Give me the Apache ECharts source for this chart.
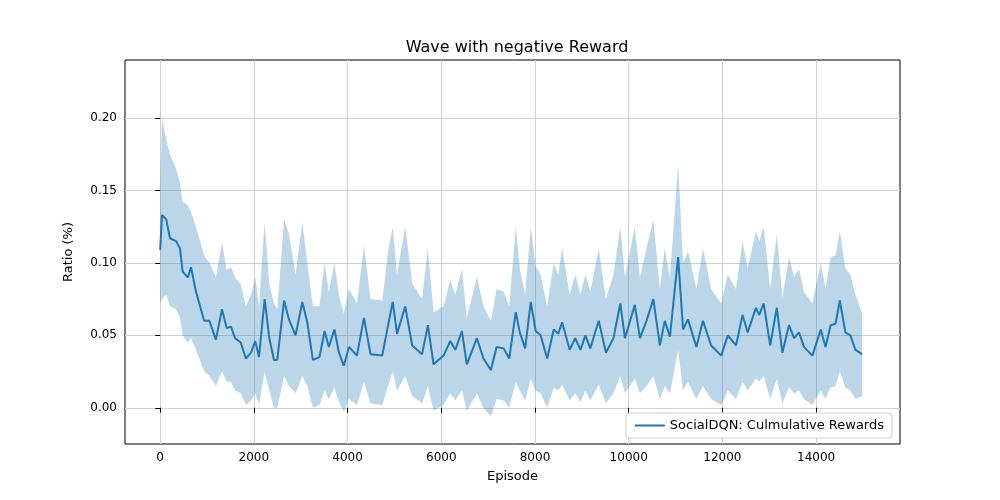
<!DOCTYPE html>
<html><head><meta charset="utf-8">
<script src="https://cdn.jsdelivr.net/npm/echarts@6/dist/echarts.min.js"></script>
<style>html,body{margin:0;background:#fff}#c{width:1000px;height:500px}</style>
</head><body><div id="c"></div>
<script>
var episodes = [0,40,130,210,340,425,480,590,660,765,940,1050,1190,1320,1420,1510,1600,1720,1830,1940,2030,2110,2230,2330,2430,2500,2645,2750,2890,3035,3140,3260,3400,3510,3600,3720,3815,3920,4030,4200,4350,4490,4740,4865,4965,5055,5230,5380,5590,5715,5835,6050,6190,6300,6440,6545,6760,6900,7060,7180,7330,7450,7590,7675,7790,7910,8015,8120,8260,8400,8495,8580,8740,8860,8970,9075,9180,9360,9515,9675,9820,9920,10130,10240,10380,10525,10665,10770,10880,11055,11160,11265,11445,11585,11760,11975,12115,12290,12430,12540,12715,12785,12880,13020,13160,13280,13420,13530,13635,13740,13920,14100,14200,14310,14415,14505,14625,14730,14840,14980];
var meanVals = [0.109,0.133,0.130,0.117,0.115,0.110,0.094,0.090,0.097,0.080,0.060,0.060,0.047,0.068,0.055,0.056,0.048,0.045,0.034,0.038,0.046,0.035,0.075,0.048,0.033,0.033,0.074,0.061,0.050,0.073,0.059,0.033,0.035,0.053,0.042,0.054,0.038,0.029,0.042,0.036,0.062,0.037,0.036,0.057,0.073,0.051,0.070,0.043,0.037,0.057,0.030,0.036,0.046,0.040,0.053,0.030,0.048,0.034,0.026,0.042,0.041,0.034,0.066,0.052,0.041,0.073,0.053,0.050,0.034,0.054,0.051,0.059,0.040,0.048,0.040,0.050,0.041,0.060,0.038,0.048,0.072,0.048,0.071,0.048,0.060,0.075,0.043,0.060,0.049,0.104,0.054,0.061,0.042,0.060,0.043,0.036,0.050,0.043,0.064,0.052,0.069,0.064,0.072,0.043,0.069,0.038,0.057,0.048,0.052,0.042,0.036,0.054,0.042,0.057,0.058,0.074,0.052,0.050,0.040,0.037];
var upperVals = [0.150,0.200,0.185,0.175,0.165,0.155,0.142,0.140,0.135,0.125,0.105,0.100,0.090,0.114,0.095,0.097,0.090,0.085,0.070,0.078,0.090,0.070,0.128,0.085,0.072,0.068,0.130,0.120,0.092,0.128,0.100,0.070,0.070,0.100,0.080,0.100,0.078,0.065,0.082,0.072,0.112,0.075,0.074,0.108,0.125,0.092,0.125,0.086,0.075,0.110,0.066,0.070,0.088,0.078,0.096,0.062,0.090,0.070,0.060,0.082,0.080,0.070,0.125,0.096,0.078,0.125,0.098,0.092,0.070,0.100,0.092,0.110,0.078,0.092,0.078,0.092,0.080,0.110,0.075,0.092,0.125,0.090,0.125,0.090,0.110,0.130,0.082,0.110,0.090,0.168,0.100,0.108,0.082,0.110,0.082,0.072,0.092,0.082,0.115,0.096,0.122,0.115,0.125,0.082,0.120,0.076,0.104,0.090,0.096,0.080,0.072,0.100,0.082,0.104,0.105,0.122,0.096,0.092,0.078,0.065];
var lowerVals = [0.072,0.075,0.078,0.070,0.068,0.062,0.050,0.045,0.048,0.040,0.025,0.022,0.015,0.025,0.018,0.018,0.012,0.010,0.002,0.005,0.010,0.002,0.025,0.012,0.000,0.000,0.022,0.015,0.010,0.022,0.015,0.000,0.002,0.012,0.006,0.014,0.004,-0.003,0.006,0.002,0.018,0.003,0.002,0.015,0.025,0.012,0.022,0.008,0.003,0.015,-0.002,0.002,0.010,0.005,0.012,-0.002,0.010,0.000,-0.006,0.006,0.005,0.000,0.018,0.012,0.005,0.020,0.012,0.010,0.000,0.014,0.012,0.016,0.005,0.010,0.004,0.012,0.005,0.016,0.003,0.010,0.022,0.010,0.020,0.010,0.015,0.022,0.006,0.015,0.010,0.040,0.012,0.018,0.006,0.015,0.006,0.002,0.012,0.006,0.018,0.012,0.020,0.018,0.022,0.006,0.020,0.003,0.014,0.010,0.012,0.006,0.002,0.012,0.006,0.014,0.015,0.025,0.014,0.012,0.006,0.008];

function pairs(a) { return episodes.map(function (e, i) { return [e, a[i]]; }); }
var tickVals = [0,2000,4000,6000,8000,10000,12000,14000];
var yTicks = [0,0.05,0.1,0.15,0.2];

var myChart = echarts.init(document.getElementById('c'));
myChart.setOption({
    animation: false,
    textStyle: { fontFamily: 'DejaVu Sans' },
    title: {
        text: 'Wave with negative Reward', left: 512, top: 35, textAlign: 'center',
        textStyle: { fontSize: 16, fontWeight: 'normal', color: '#000' }
    },
    grid: { left: 125, right: 100, top: 60, bottom: 56, show: true, borderColor: '#000', borderWidth: 1 },
    legend: {
        right: 108, bottom: 62, orient: 'vertical',
        data: ['SocialDQN: Culmulative Rewards'],
        itemWidth: 30, itemHeight: 2, backgroundColor: '#fff',
        borderColor: '#ccc', borderWidth: 1, borderRadius: 3, padding: [6, 8],
        textStyle: { fontSize: 13, color: '#000' }
    },
    xAxis: {
        type: 'value', min: -750, max: 15790,
        name: 'Episode', nameLocation: 'middle', nameGap: 26,
        nameTextStyle: { fontSize: 13, color: '#000' },
        axisLine: { show: false },
        axisTick: { show: true, customValues: tickVals, lineStyle: { color: '#000' } },
        axisLabel: { customValues: tickVals, color: '#000', fontSize: 12,
            formatter: function (v) { return String(v); } },
        splitLine: { show: true, lineStyle: { color: '#d0d0d0' } }
    },
    yAxis: {
        type: 'value', min: -0.025, max: 0.24,
        name: 'Ratio (%)', nameLocation: 'middle', nameGap: 50,
        nameTextStyle: { fontSize: 13, color: '#000' },
        axisLine: { show: false },
        axisTick: { show: true, customValues: yTicks, lineStyle: { color: '#000' } },
        axisLabel: { customValues: yTicks, color: '#000', fontSize: 12,
            formatter: function (v) { return v.toFixed(2); } },
        splitLine: { show: true, lineStyle: { color: '#d0d0d0' } }
    },
    series: [
        {
            name: 'band', type: 'custom', silent: true, z: 1,
            data: [0],
            renderItem: function (params, api) {
                var pts = [];
                for (var i = 0; i < episodes.length; i++) pts.push(api.coord([episodes[i], upperVals[i]]));
                for (var j = episodes.length - 1; j >= 0; j--) pts.push(api.coord([episodes[j], lowerVals[j]]));
                return { type: 'polygon', shape: { points: pts }, style: { fill: 'rgba(31,119,180,0.3)' } };
            }
        },
        {
            name: 'SocialDQN: Culmulative Rewards', type: 'line', z: 3,
            data: pairs(meanVals), symbol: 'none',
            lineStyle: { color: '#1f77b4', width: 2 }, itemStyle: { color: '#1f77b4' }
        }
    ]
});
</script></body></html>
